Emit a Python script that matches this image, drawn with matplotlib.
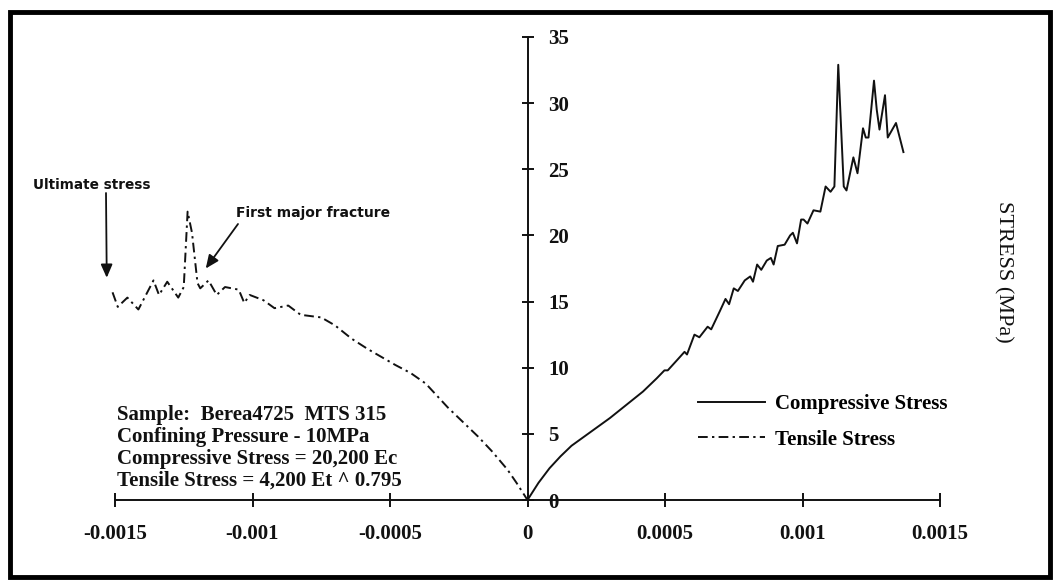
import matplotlib
matplotlib.use("Agg")
import matplotlib.pyplot as plt
from matplotlib.patches import Rectangle

# Compressive branch (strain, stress in MPa)
comp_strain = [0.0, 0.00004, 0.00008, 0.00012, 0.00016, 0.00022, 0.0003,
               0.00036, 0.00042, 0.00047, 0.000498, 0.00051, 0.000545,
               0.000571, 0.00058, 0.000607, 0.000625, 0.000655, 0.000668,
               0.0007, 0.00072, 0.000733, 0.00075, 0.000765, 0.00079,
               0.00081, 0.00082, 0.000835, 0.00085, 0.00087, 0.000885,
               0.000895, 0.00091, 0.000935, 0.000955, 0.000965, 0.00098,
               0.000995, 0.001004, 0.001018, 0.00104, 0.001065, 0.001084,
               0.001102, 0.001116, 0.00113, 0.00115, 0.00116, 0.001185,
               0.0012, 0.00122, 0.00123, 0.00124, 0.00126, 0.00127,
               0.00128, 0.00130, 0.00131, 0.00134, 0.001367]
comp_stress = [0.0, 1.3, 2.4, 3.3, 4.1, 5.0, 6.2,
               7.2, 8.2, 9.2, 9.8, 9.8, 10.6,
               11.2, 11.0, 12.5, 12.3, 13.1, 12.9,
               14.3, 15.2, 14.8, 16.0, 15.8, 16.6,
               16.9, 16.5, 17.8, 17.4, 18.1, 18.3,
               17.8, 19.2, 19.3, 20.0, 20.2, 19.4,
               21.2, 21.2, 20.9, 21.9, 21.8, 23.7,
               23.3, 23.7, 32.9, 23.7, 23.4, 25.9,
               24.7, 28.1, 27.4, 27.4, 31.7, 29.5,
               28.0, 30.6, 27.4, 28.5, 26.3]

# Tensile branch (strain, stress in MPa)
tens_strain = [-0.001509, -0.00149, -0.001455, -0.001415, -0.00136, -0.00134,
               -0.00131, -0.00127, -0.00125, -0.001236, -0.00122, -0.0012,
               -0.00119, -0.00116, -0.00113, -0.0011, -0.00105, -0.00103,
               -0.00101, -0.00096, -0.00092, -0.00087, -0.000825, -0.00075,
               -0.0007, -0.00064, -0.00058, -0.00053, -0.00048, -0.000425,
               -0.00037, -0.00029, -0.00024, -0.00018, -0.00013, -0.000073,
               -0.00004, 0.0]
tens_stress = [15.7, 14.6, 15.3, 14.4, 16.6, 15.5,
               16.5, 15.3, 16.1, 21.8, 20.2, 16.4,
               16.0, 16.6, 15.5, 16.1, 15.9, 14.9,
               15.5, 15.1, 14.5, 14.7, 14.0, 13.8,
               13.2, 12.2, 11.4, 10.8, 10.2, 9.6,
               8.8, 7.0, 6.0, 4.8, 3.7, 2.3,
               1.3, 0.0]

x_ticks = [-0.0015, -0.001, -0.0005, 0, 0.0005, 0.001, 0.0015]
x_tick_labels = ["-0.0015", "-0.001", "-0.0005", "0", "0.0005", "0.001", "0.0015"]
y_ticks = [0, 5, 10, 15, 20, 25, 30, 35]
y_tick_labels = ["0", "5", "10", "15", "20", "25", "30", "35"]

ultimate_pt = (-0.00153, 16.8)
fracture_pt = (-0.00117, 17.5)

info_lines = ["Sample:  Berea4725  MTS 315",
              "Confining Pressure - 10MPa",
              "Compressive Stress = 20,200 Ec",
              "Tensile Stress = 4,200 Et ^ 0.795"]

W, H = 1058, 580
SERIF = "Liberation Serif"

fig = plt.figure(figsize=(W / 100, H / 100), dpi=100)
fig.patch.set_facecolor("white")


def fx(px):
    return px / W


def fy(py):
    return 1 - py / H


# outer frame
fig.patches.append(Rectangle((fx(10), fy(577)), fx(1050) - fx(10), fy(12) - fy(577),
                             transform=fig.transFigure, fill=False,
                             edgecolor="black", linewidth=3.5))

ax = fig.add_axes([fx(115), fy(500), (940 - 115) / W, (500 - 37) / H])
ax.set_xlim(-0.0015, 0.0015)
ax.set_ylim(0, 35)
ax.patch.set_alpha(0)

for s in ("top", "left"):
    ax.spines[s].set_visible(False)
ax.spines["bottom"].set_position(("data", 0))
ax.spines["bottom"].set_bounds(-0.0015, 0.0015)
ax.spines["right"].set_position(("data", 0))
ax.spines["right"].set_bounds(0, 35)
for s in ("bottom", "right"):
    ax.spines[s].set_linewidth(1.4)
    ax.spines[s].set_color("#111111")

ax.yaxis.tick_right()
ax.set_xticks(x_ticks)
ax.set_xticklabels(x_tick_labels, fontfamily=SERIF, fontweight="bold", fontsize=15)
ax.set_yticks(y_ticks)
ylabels = ax.set_yticklabels(y_tick_labels, fontfamily=SERIF, fontweight="bold", fontsize=15)
ylabels[0].set_bbox(dict(facecolor="white", edgecolor="none", pad=1))
ax.tick_params(axis="x", direction="inout", length=10, width=1.4, pad=12, colors="#111111")
ax.tick_params(axis="y", direction="inout", length=8, width=1.4, pad=11, colors="#111111")

comp_line, = ax.plot(comp_strain, comp_stress, color="#111111", lw=1.4,
                     solid_joinstyle="round", clip_on=False)
tens_line, = ax.plot(tens_strain, tens_stress, color="#111111", lw=1.4,
                     linestyle=(0, (5, 2.2, 1.2, 2.2)), clip_on=False)

leg = ax.legend([comp_line, tens_line], ["Compressive Stress", "Tensile Stress"],
                loc="upper left", bbox_to_anchor=(fx(698), fy(394)),
                bbox_transform=fig.transFigure, frameon=False,
                borderpad=0, borderaxespad=0, handlelength=3.2,
                handletextpad=0.5, labelspacing=0.75,
                prop=dict(family=SERIF, weight="bold", size=15))

# sample information block
for i, line in enumerate(info_lines):
    fig.text(fx(117), fy(415 + i * 22), line, fontfamily=SERIF, fontweight="bold",
             fontsize=15, ha="left", va="center", color="#111111")

fig.text(fx(1003), fy(272), "STRESS (MPa)", rotation=270, fontfamily=SERIF,
         fontsize=16, ha="center", va="center", color="#111111")

# event annotations
arrow_style = dict(arrowstyle="-|>,head_length=0.8,head_width=0.35",
                   color="#111111", lw=1.3, shrinkA=0, shrinkB=0)
ax.text(fx(33), fy(185), "Ultimate stress", transform=fig.transFigure,
        fontfamily="DejaVu Sans", fontweight="bold", fontsize=9.8,
        ha="left", va="center", color="#111111")
ax.annotate("", xy=ultimate_pt, xycoords="data",
            xytext=(106, H - 193), textcoords="figure pixels",
            arrowprops=arrow_style, annotation_clip=False)
ax.text(fx(236), fy(213), "First major fracture", transform=fig.transFigure,
        fontfamily="DejaVu Sans", fontweight="bold", fontsize=10,
        ha="left", va="center", color="#111111")
ax.annotate("", xy=fracture_pt, xycoords="data",
            xytext=(238, H - 224), textcoords="figure pixels",
            arrowprops=arrow_style, annotation_clip=False)

fig.savefig("out.png", dpi=100, facecolor="white")
